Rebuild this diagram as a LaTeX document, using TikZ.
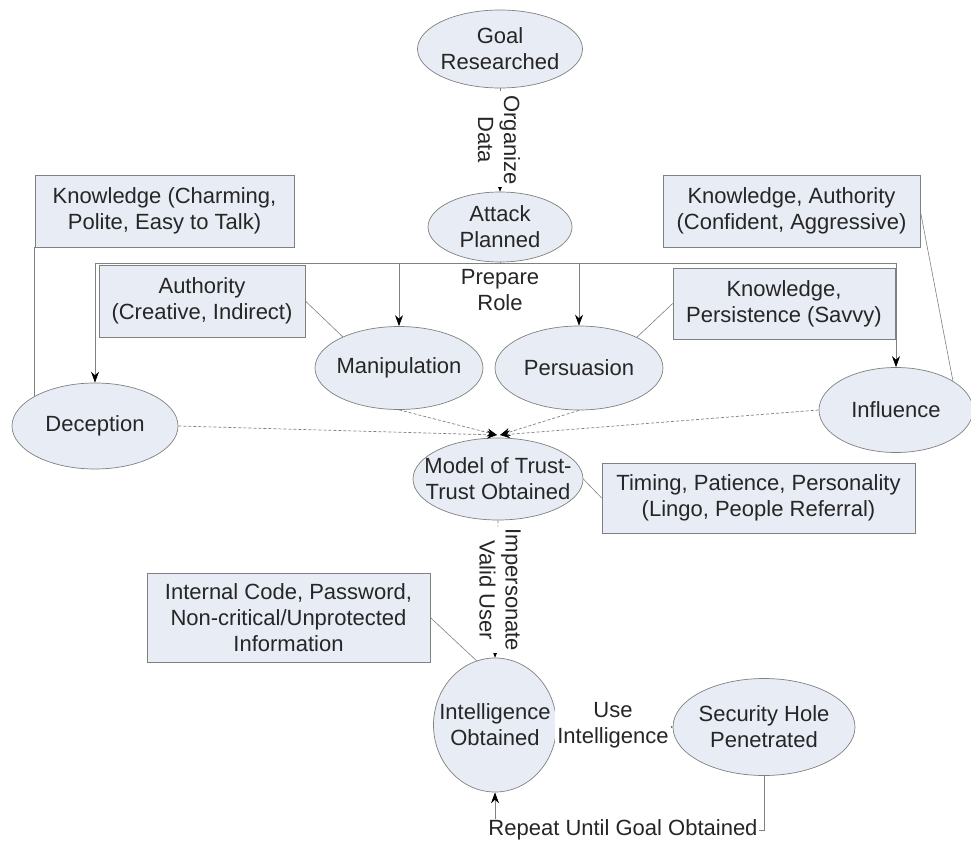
\documentclass[tikz,border=0pt]{standalone}
\usepackage{fontspec}
\setmainfont{Liberation Sans}
\usetikzlibrary{shapes.geometric,arrows.meta,calc}
\definecolor{nodefill}{HTML}{E8ECF5}
\definecolor{edgegray}{HTML}{808080}
\definecolor{txtcol}{HTML}{262626}
\begin{document}
\begin{tikzpicture}[x=1pt,y=-1pt,
  every node/.style={font=\fontsize{22}{26}\selectfont, text=txtcol},
  el/.style={ellipse, draw=edgegray, fill=nodefill, inner sep=0pt, line width=0.7pt},
  inl/.style={align=center, inner sep=0pt},
  infobox/.style={rectangle, draw=edgegray, fill=nodefill, inner sep=0pt, align=center, line width=0.7pt},
  lbl/.style={align=center, fill=white, inner sep=2pt},
  solidc/.style={draw=edgegray, line width=0.8pt},
  arr/.style={draw=edgegray, line width=0.8pt, -{Stealth[length=11pt,width=8pt,color=black]}},
  dashc/.style={draw=edgegray, line width=0.7pt, dash pattern=on 3pt off 2pt, -{Stealth[length=10pt,width=8pt,color=black]}},
  link/.style={draw=edgegray, line width=0.6pt}
]
\useasboundingbox (0,0) rectangle (971,842);

% ellipses
\node[el, minimum width=165, minimum height=78, label={[inl]center:{Goal\\Researched}}] (goal) at (500,49) {};
\node[el, minimum width=144, minimum height=70, label={[inl]center:{Attack\\Planned}}] (ap) at (500,227) {};
\node[el, minimum width=166, minimum height=86, label={[inl]center:{Deception}}] (dec) at (95,426) {};
\node[el, minimum width=168, minimum height=83, label={[inl]center:{Manipulation}}] (man) at (399,368) {};
\node[el, minimum width=168, minimum height=84, label={[inl]center:{Persuasion}}] (per) at (579,368) {};
\node[el, minimum width=154, minimum height=85, label={[inl]center:{Influence}}] (inf) at (896,410) {};
\node[el, minimum width=170, minimum height=82, label={[inl]center:{Model of Trust-\\Trust Obtained}}] (mod) at (498,479) {};
\node[el, minimum width=123, minimum height=134, label={[inl]center:{Intelligence\\Obtained}}] (int) at (495,725) {};
\node[el, minimum width=182, minimum height=97, label={[inl]center:{Security Hole\\Penetrated}}] (sec) at (764,727) {};

% boxes
\node[infobox, minimum width=259, minimum height=72] (k1) at (164.5,211) {Knowledge (Charming,\\Polite, Easy to Talk)};
\node[infobox, minimum width=257, minimum height=72] (k2) at (791.5,211) {Knowledge, Authority\\(Confident, Aggressive)};
\node[infobox, minimum width=206, minimum height=72] (k3) at (202,301) {Authority\\(Creative, Indirect)};
\node[infobox, minimum width=222, minimum height=71] (k4) at (784,303.5) {Knowledge,\\Persistence (Savvy)};
\node[infobox, minimum width=313, minimum height=70] (tim) at (758.5,498) {Timing, Patience, Personality\\(Lingo, People Referral)};
\node[infobox, minimum width=283, minimum height=89] (info) at (288.5,617.5) {Internal Code, Password,\\Non-critical/Unprotected\\Information};

% goal -> attack planned
\draw[dashc] (goal.south) -- (ap.north);
\node[lbl, rotate=-90] (orgl) at (499,140) {Organize\\Data};

% bus from attack planned
\coordinate (bus) at (500,263);
\draw[solidc] (ap.south) -- (bus);
\draw[arr] (bus) -| (dec.north);
\draw[arr] (bus) -| (man.north);
\draw[arr] (bus) -| (per.north);
\draw[arr] (bus) -| (inf.north);
\node[inl] (prep) at (500,290) {Prepare\\Role};

% converging to model of trust
\coordinate (mtl) at (497,435);
\coordinate (mtr) at (500,435);
\draw[dashc] (dec.east) -- (mtl);
\draw[dashc] (man.south) -- (mtl);
\draw[dashc] (per.south) -- (mtr);
\draw[dashc] (inf.west) -- (mtr);

% attribute links
\draw[link] (k1.south west) -- (k1.south west |- dec.153);
\draw[link] (k2.east) -- (inf.27);
\draw[link] (k3.east) -- (man.151);
\draw[link] (k4.west) -- (per.28);
\draw[link] (mod.east) -- (tim.west);
\draw[link] (info.east) -- (int.106);

% model -> intelligence
\draw[dashc] (mod.south) -- (int.north);
\node[lbl, rotate=-90] (impl) at (500,590) {Impersonate\\Valid User};

% intelligence -> security hole
\draw[dashc] (int.east) -- (sec.west);
\node[lbl] (usel) at (613,725) {Use\\Intelligence};

% repeat loop
\coordinate (rp) at (764,830);
\draw[arr] (sec.south) -- (rp) -| (int.south);
\node[lbl, inner sep=1pt] (repl) at (623,830) {Repeat Until Goal Obtained};
\end{tikzpicture}
\end{document}
